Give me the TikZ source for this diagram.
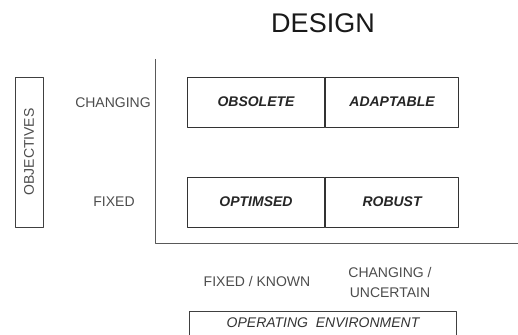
\documentclass[tikz,border=0pt]{standalone}
\usepackage{fontspec}
\setmainfont{Liberation Sans}
\usetikzlibrary{positioning}
\tikzset{
	cell/.style={draw=black!80, line width=0.9pt, minimum height=50pt, inner sep=0pt, font=\fontsize{14}{16}\selectfont\bfseries\itshape, text=black!85},
	lbl/.style={font=\fontsize{14}{20}\selectfont, text=black!70, align=center, inner sep=0pt},
	frame/.style={draw=black!75, line width=0.8pt, inner sep=0pt},
}
\begin{document}
\begin{tikzpicture}[x=1pt,y=-1pt,line join=round]
	\clip (0,0) rectangle (518,334);
	% axes
	\coordinate (top) at (155,59);
	\coordinate (org) at (155,243);
	\coordinate (end) at (518,243);
	\draw[black!65, line width=0.8pt] (top) -- (org) -- (end);
	\node[font=\fontsize{27}{30}\selectfont, text=black!90] (design) at (323,23) {DESIGN};
	% objectives side
	\node[frame, lbl, rotate=90, minimum width=150pt, minimum height=28pt] (obj) at (29,152) {OBJECTIVES};
	\node[lbl] (chg) at (113,103) {CHANGING};
	\node[lbl] (fix) at (114,202) {FIXED};
	% the four cells
	\node[cell, minimum width=136.6pt] (obsolete) at (256,102) {OBSOLETE};
	\node[cell, minimum width=133.7pt, right=0pt of obsolete] (adaptable) {ADAPTABLE};
	\node[cell, minimum width=136.6pt] (optimised) at (256,202) {OPTIMSED};
	\node[cell, minimum width=133.7pt, right=0pt of optimised] (robust) {ROBUST};
	% environment side
	\node[lbl] (known) at (257,281) {FIXED / KNOWN};
	\node[lbl] (uncert) at (390,282) {CHANGING /\\UNCERTAIN};
	\node[frame, font=\fontsize{14}{16}\selectfont\itshape, text=black!80, minimum width=267pt, minimum height=24pt] (env) at (323,323) {OPERATING\ \ ENVIRONMENT};
\end{tikzpicture}
\end{document}
